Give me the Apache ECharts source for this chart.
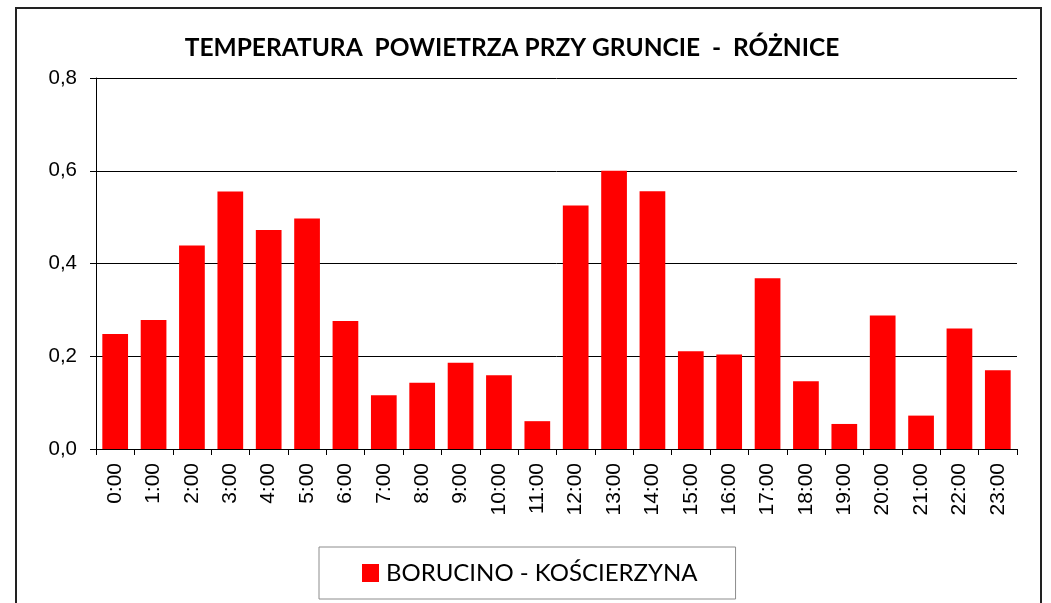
<!DOCTYPE html>
<html>
<head>
<meta charset="utf-8">
<script src="https://cdn.jsdelivr.net/npm/echarts@6/dist/echarts.min.js"></script>
<style>
  html, body { margin: 0; padding: 0; background: #fff; }
  #chart { width: 1051px; height: 603px; }
</style>
</head>
<body>
<div id="chart"></div>
<script>
// Hourly air temperature differences at ground level
const chartTitle = 'TEMPERATURA  POWIETRZA PRZY GRUNCIE  -  RÓŻNICE';
const seriesName = 'BORUCINO - KOŚCIERZYNA';
const hours = ['0:00','1:00','2:00','3:00','4:00','5:00','6:00','7:00','8:00','9:00','10:00','11:00',
               '12:00','13:00','14:00','15:00','16:00','17:00','18:00','19:00','20:00','21:00','22:00','23:00'];
const differences = [0.248, 0.278, 0.439, 0.555, 0.472, 0.497, 0.276, 0.116, 0.143, 0.186, 0.159, 0.060,
                     0.525, 0.600, 0.556, 0.211, 0.204, 0.368, 0.146, 0.054, 0.288, 0.072, 0.260, 0.170];
const yMin = 0, yMax = 0.8, yStep = 0.2;

const chart = echarts.init(document.getElementById('chart'), null, { renderer: 'canvas' });

const labelFont = '"Liberation Sans", Arial, sans-serif';

chart.setOption({
  backgroundColor: '#ffffff',
  animation: false,
  title: {
    text: chartTitle,
    left: 507,
    textAlign: 'center',
    top: 31,
    textStyle: { fontFamily: 'Lato, sans-serif', fontWeight: 'bold', fontSize: 24.5, color: '#000' }
  },
  legend: {
    data: [seriesName],
    left: 319,
    top: 547,
    width: 418,
    padding: [14, 38, 14, 43],
    itemWidth: 17,
    itemHeight: 18,
    itemGap: 0,
    borderColor: '#8c8c8c',
    borderWidth: 1,
    icon: 'rect',
    textStyle: { fontFamily: 'Lato, sans-serif', fontSize: 24, color: '#000', padding: [0, 0, 0, 2] }
  },
  grid: { left: 96, right: 34, top: 78, bottom: 154, containLabel: false },
  xAxis: {
    type: 'category',
    data: hours,
    boundaryGap: true,
    axisLine: { show: true, lineStyle: { color: '#000', width: 1 } },
    axisTick: { show: true, length: 6, alignWithLabel: false, lineStyle: { color: '#000' } },
    axisLabel: { rotate: 90, margin: 14, fontFamily: labelFont, fontSize: 21, color: '#000', interval: 0 },
    splitLine: { show: false }
  },
  yAxis: {
    type: 'value',
    min: yMin,
    max: yMax,
    interval: yStep,
    axisLine: { show: true, lineStyle: { color: '#000', width: 1 } },
    axisTick: { show: true, length: 6, lineStyle: { color: '#000' } },
    axisLabel: {
      margin: 19,
      fontFamily: labelFont,
      fontSize: 20.5,
      color: '#000',
      formatter: v => v.toFixed(1).replace('.', ',')
    },
    splitLine: { show: true, lineStyle: { color: '#000', width: 1 } }
  },
  series: [{
    name: seriesName,
    type: 'bar',
    data: differences,
    barCategoryGap: '33%',
    itemStyle: { color: '#ff0000' }
  }],
  graphic: [{
    type: 'rect',
    silent: true,
    z: -1,
    shape: { x: 16, y: 8, width: 1025, height: 700 },
    style: { fill: 'none', stroke: '#222', lineWidth: 2 }
  }]
});
</script>
</body>
</html>
